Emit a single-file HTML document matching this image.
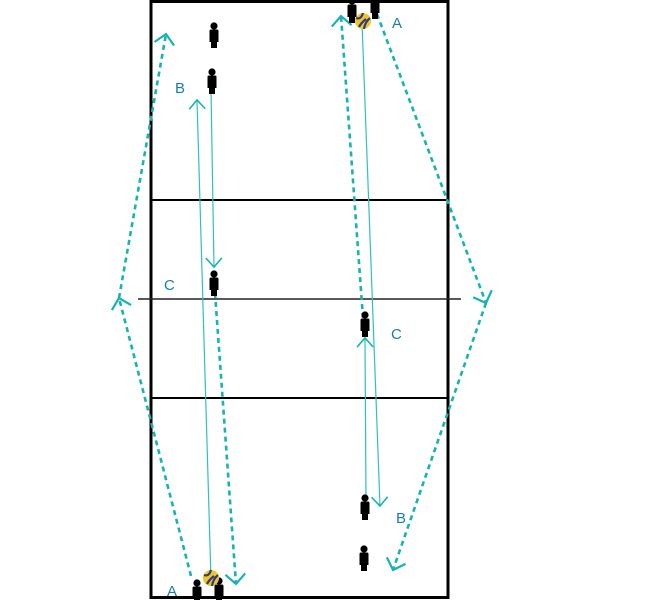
<!DOCTYPE html>
<html><head><meta charset="utf-8"><style>
html,body{margin:0;padding:0;background:#fff;}
svg{display:block;}
text{font-family:"Liberation Sans",sans-serif;font-size:15px;fill:#1a7fa6;}
</style></head><body>
<svg width="650" height="600" viewBox="0 0 650 600" xmlns="http://www.w3.org/2000/svg">
<defs>
<marker id="ah" viewBox="-10 -10 20 20" markerWidth="20" markerHeight="20" refX="0" refY="0" orient="auto" markerUnits="userSpaceOnUse">
<polyline points="-9,-8 0,0 -9,8" fill="none" stroke="#17b3b3" stroke-width="1.6"/>
</marker>
<marker id="ahd" viewBox="-10 -10 20 20" markerWidth="22" markerHeight="22" refX="0" refY="0" orient="auto" markerUnits="userSpaceOnUse">
<polyline points="-9,-9 0,0 -9,9" fill="none" stroke="#17b3b3" stroke-width="2"/>
</marker>
<g id="p"><circle cx="0" cy="-9" r="3.6" fill="#000"/><path d="M-4.5,-4 Q-4.5,-5.5 -3,-5.5 L3,-5.5 Q4.5,-5.5 4.5,-4 L4.5,7 L3,7 L3,13 L-3,13 L-3,7 L-4.5,7 Z" fill="#000"/></g>
<g id="ball"><circle cx="0" cy="0" r="8" fill="#f2c61f"/><path d="M-7,-3 Q-2,-1 0,-8 M1,8 Q2,1 7,-3 M-4,6 Q-2,2 3,-2" stroke="#2a3a8c" stroke-width="2.2" fill="none"/></g>
</defs>
<!-- court -->
<rect x="151" y="1.5" width="297" height="596" fill="none" stroke="#000" stroke-width="3"/>
<line x1="151" y1="200" x2="448" y2="200" stroke="#000" stroke-width="2"/>
<line x1="151" y1="398" x2="448" y2="398" stroke="#000" stroke-width="2"/>
<line x1="138" y1="299" x2="461" y2="299" stroke="#222" stroke-width="1.6"/>
<!-- solid lines -->
<g stroke="#30c0c0" stroke-width="1.2" fill="none">
<line x1="211" y1="580" x2="197" y2="100" marker-end="url(#ah)"/>
<line x1="211" y1="90" x2="214" y2="267" marker-end="url(#ah)"/>
<line x1="362" y1="22" x2="380" y2="506" marker-end="url(#ah)"/>
<line x1="366" y1="500" x2="365" y2="338" marker-end="url(#ah)"/>
</g>
<!-- dashed lines -->
<g stroke="#17b3b3" stroke-width="2.6" stroke-dasharray="5,4" fill="none">
<line x1="191" y1="576" x2="119" y2="298" marker-end="url(#ahd)"/>
<line x1="119" y1="298" x2="166" y2="34" marker-end="url(#ahd)"/>
<line x1="377" y1="14" x2="486" y2="303" marker-end="url(#ahd)"/>
<line x1="486" y1="303" x2="393" y2="570" marker-end="url(#ahd)"/>
<line x1="363" y1="318" x2="341" y2="16" marker-end="url(#ahd)"/>
<line x1="215" y1="293" x2="236" y2="584" marker-end="url(#ahd)"/>
</g>
<!-- players -->
<use href="#p" x="214" y="35"/>
<use href="#p" x="212" y="81"/>
<use href="#p" x="214" y="283"/>
<use href="#p" x="352" y="10"/>
<use href="#p" x="375" y="6"/>
<use href="#p" x="365" y="324"/>
<use href="#p" x="365" y="507"/>
<use href="#p" x="364" y="558"/>
<use href="#p" x="197" y="592"/>
<use href="#p" x="219" y="590"/>
<use href="#ball" x="363" y="21"/>
<use href="#ball" x="211" y="578"/>
<!-- labels -->
<text x="392" y="28">A</text>
<text x="175" y="93">B</text>
<text x="164" y="290">C</text>
<text x="391" y="339">C</text>
<text x="396" y="523">B</text>
<text x="167" y="596">A</text>
</svg>
</body></html>
